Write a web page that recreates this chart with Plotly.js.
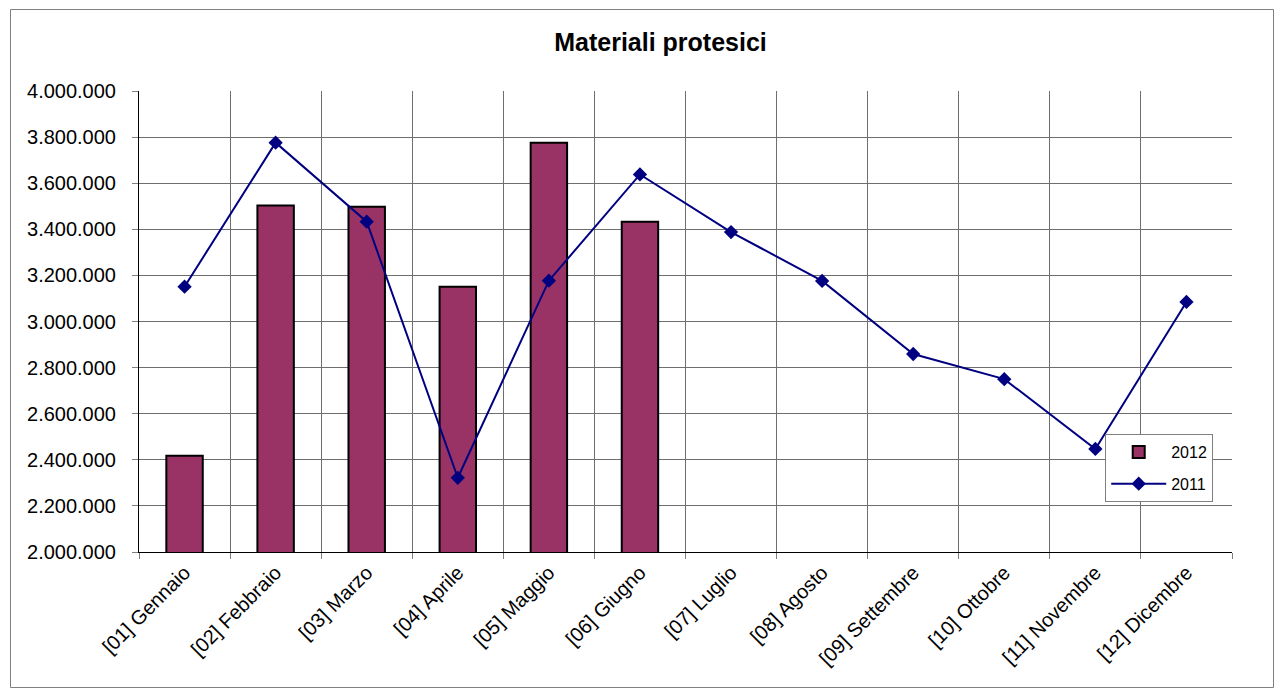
<!DOCTYPE html>
<html>
<head>
<meta charset="utf-8">
<script src="https://cdn.plot.ly/plotly-3.0.1.min.js"></script>
<style>html,body{margin:0;padding:0;background:#fff;}#chart{width:1274px;height:691px;}</style>
</head>
<body>
<div id="chart"></div>
<script>
var months = ["[01] Gennaio","[02] Febbraio","[03] Marzo","[04] Aprile","[05] Maggio","[06] Giugno","[07] Luglio","[08] Agosto","[09] Settembre","[10] Ottobre","[11] Novembre","[12] Dicembre"];
var months2012 = months.slice(0, 6);
var values2012 = [2418000, 3503000, 3498000, 3151000, 3776000, 3433000];
var values2011 = [3151000, 3776000, 3433000, 2322000, 3177000, 3638000, 3388000, 3176000, 2859000, 2750000, 2447000, 3085000];

var traces = [
  {
    type: "bar", name: "2012", x: months2012, y: values2012, legendgroup: "a",
    marker: {color: "#993366", line: {color: "#000000", width: 2}}
  },
  {
    type: "scatter", mode: "lines+markers", name: "2011", x: months, y: values2011, legendgroup: "b",
    line: {color: "#000080", width: 2},
    marker: {symbol: "diamond", size: 11, color: "#000080"}
  }
];

var layout = {
  width: 1274, height: 691,
  paper_bgcolor: "#ffffff", plot_bgcolor: "#ffffff",
  font: {family: "Liberation Sans, Arial, sans-serif", color: "#000000", size: 20},
  separators: ",.",
  margin: {l: 139, r: 42, t: 91, b: 139},
  title: {text: "<b>Materiali protesici</b>", font: {size: 25, color: "#000"}, x: 660.5 / 1274, xanchor: "center", y: 1 - 42 / 691, yanchor: "middle"},
  bargap: 0.6,
  showlegend: true,
  legend: {x: 0.884, y: 0.256, xanchor: "left", yanchor: "top", bgcolor: "#ffffff", bordercolor: "#808080", borderwidth: 1, font: {size: 16}, tracegroupgap: 8, traceorder: "grouped", itemwidth: 55},
  xaxis: {
    type: "category", categoryorder: "array", categoryarray: months,
    range: [-0.5, 11.5],
    tickson: "boundaries", ticks: "outside", ticklen: 6, tickcolor: "#808080",
    showgrid: true, gridcolor: "#6e6e6e", gridwidth: 1,
    showline: true, linecolor: "#000000", linewidth: 1,
    tickangle: -45, tickfont: {size: 20}
  },
  yaxis: {
    range: [2000000, 4000000], dtick: 200000, tick0: 2000000,
    tickformat: ",d", ticks: "outside", ticklen: 6, tickcolor: "#808080",
    ticklabelstandoff: 12,
    showgrid: true, gridcolor: "#6e6e6e", gridwidth: 1,
    showline: true, linecolor: "#000000", linewidth: 1,
    zeroline: false, tickfont: {size: 20}
  },
  shapes: [
    {type: "rect", xref: "paper", yref: "paper",
     x0: (10.5 - 139) / 1093, x1: (1273.5 - 139) / 1093,
     y0: (552 - 687.5) / 461, y1: (552 - 9.5) / 461,
     line: {color: "#808080", width: 1}, fillcolor: "rgba(0,0,0,0)", layer: "below"}
  ]
};

Plotly.newPlot("chart", traces, layout, {displayModeBar: false, staticPlot: true});
</script>
</body>
</html>
